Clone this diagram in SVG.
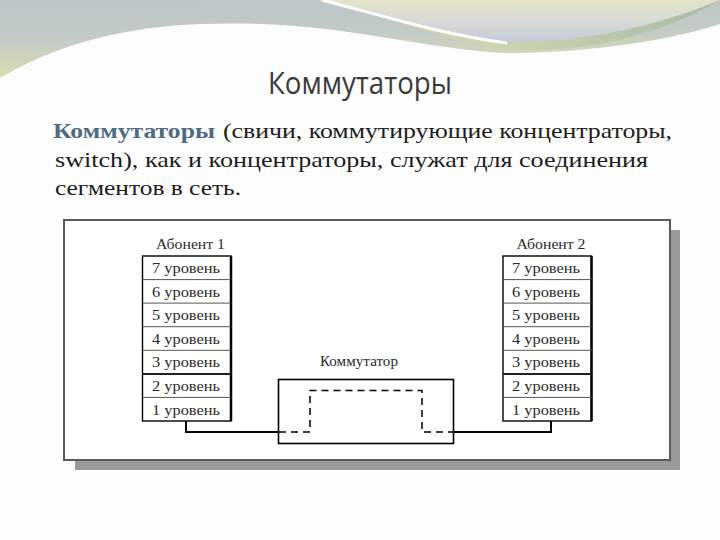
<svg xmlns="http://www.w3.org/2000/svg" width="720" height="540" viewBox="0 0 720 540">
<defs>
<linearGradient id="gLeft" x1="0" y1="0" x2="0.15" y2="1">
<stop offset="0" stop-color="#bcc6c9"/>
<stop offset="0.45" stop-color="#c3cbc6"/>
<stop offset="1" stop-color="#dfe6a6"/>
</linearGradient>
<linearGradient id="gRight" x1="0" y1="0" x2="0" y2="1">
<stop offset="0" stop-color="#e4e4c9"/>
<stop offset="0.55" stop-color="#d6d9d6"/>
<stop offset="1" stop-color="#c3cbd8"/>
</linearGradient>
<linearGradient id="gBand" x1="0" y1="0" x2="1" y2="0">
<stop offset="0" stop-color="#d9e0a8"/>
<stop offset="0.5" stop-color="#c9d2b0"/>
<stop offset="1" stop-color="#a9baa9"/>
</linearGradient>
<style>
.title{font-family:"Open Sans","Noto Sans",sans-serif;font-size:31px;fill:#3a3a3a}
.body{font-family:"Liberation Serif","DejaVu Serif",serif;font-size:22px;fill:#1c1c1c}
.bold{font-weight:bold;fill:#4f6b82}
.lbl{font-family:"Liberation Serif","Times New Roman",serif;font-size:15px;fill:#2a2a2a;text-anchor:middle}
.stack{fill:#fff;stroke:#000;stroke-width:1.4}
.sep{stroke:#555;stroke-width:1}
.sepb{stroke:#222;stroke-width:2}
.conn{fill:none;stroke:#000;stroke-width:2}
.dash{fill:none;stroke:#000;stroke-width:1.5;stroke-dasharray:7,5}
</style>
</defs>
<rect width="720" height="540" fill="#fdfdfd"/>
<g id="header">
<rect x="0" y="0" width="720" height="90" fill="url(#gLeft)"/>
<path d="M318,0 C400,20 460,45 515,50 C590,52 660,35 720,0 Z" fill="url(#gBand)"/>
<path d="M325,0 C400,20 460,40 510,42 C590,42 660,25 720,0 Z" fill="url(#gRight)"/>
<path d="M322,0 C390,18 450,36 507,43" fill="none" stroke="#ffffff" stroke-width="3"/>
<path d="M0,78 C40,55 100,28 200,24 C280,21 340,30 400,40 C450,48 490,54 522,53 C600,51 670,40 720,24 V540 H0 Z" fill="#fdfdfd"/>
</g>
<text class="title" x="268" y="94" textLength="184" lengthAdjust="spacingAndGlyphs">Коммутаторы</text>
<g id="bodytext">
<text class="body bold" x="53" y="138" textLength="162" lengthAdjust="spacingAndGlyphs">Коммутаторы</text>
<text class="body" x="223" y="138" textLength="449" lengthAdjust="spacingAndGlyphs">(свичи, коммутирующие концентраторы,</text>
<text class="body" x="55" y="167" textLength="593" lengthAdjust="spacingAndGlyphs">switch), как и концентраторы, служат для соединения</text>
<text class="body" x="55" y="195" textLength="186" lengthAdjust="spacingAndGlyphs">сегментов в сеть.</text>
</g>
<g id="frame">
<rect x="75" y="230" width="605" height="240" fill="#9a9a9a"/>
<rect x="64" y="220" width="606" height="240" fill="#ffffff" stroke="#5a5a5a" stroke-width="2"/>
</g>
<g id="connectors">
<path class="conn" d="M186,421 V432 H278"/>
<path class="conn" d="M551,421 V432 H453"/>
</g>
<g id="abonent1">
<text class="lbl" x="190.5" y="249" textLength="69" lengthAdjust="spacingAndGlyphs">Абонент 1</text>
<rect class="stack" x="142.5" y="256" width="88.5" height="165"/>
<line x1="231" y1="256" x2="231" y2="421" stroke="#000" stroke-width="2.5"/>
<line class="sep" x1="142.5" y1="279.6" x2="231" y2="279.6"/>
<line class="sep" x1="142.5" y1="303.1" x2="231" y2="303.1"/>
<line class="sep" x1="142.5" y1="326.7" x2="231" y2="326.7"/>
<line class="sep" x1="142.5" y1="350.3" x2="231" y2="350.3"/>
<line class="sepb" x1="142.5" y1="373.9" x2="231" y2="373.9"/>
<line class="sep" x1="142.5" y1="397.4" x2="231" y2="397.4"/>
<text class="lbl" x="186" y="273" textLength="68" lengthAdjust="spacingAndGlyphs">7 уровень</text>
<text class="lbl" x="186" y="296.5" textLength="68" lengthAdjust="spacingAndGlyphs">6 уровень</text>
<text class="lbl" x="186" y="320" textLength="68" lengthAdjust="spacingAndGlyphs">5 уровень</text>
<text class="lbl" x="186" y="343.5" textLength="68" lengthAdjust="spacingAndGlyphs">4 уровень</text>
<text class="lbl" x="186" y="367" textLength="68" lengthAdjust="spacingAndGlyphs">3 уровень</text>
<text class="lbl" x="186" y="391" textLength="68" lengthAdjust="spacingAndGlyphs">2 уровень</text>
<text class="lbl" x="186" y="414.5" textLength="68" lengthAdjust="spacingAndGlyphs">1 уровень</text>
</g>
<g id="abonent2">
<text class="lbl" x="551" y="249" textLength="69" lengthAdjust="spacingAndGlyphs">Абонент 2</text>
<rect class="stack" x="503" y="256" width="88.5" height="165"/>
<line x1="591.5" y1="256" x2="591.5" y2="421" stroke="#000" stroke-width="2.5"/>
<line class="sep" x1="503" y1="279.6" x2="591.5" y2="279.6"/>
<line class="sep" x1="503" y1="303.1" x2="591.5" y2="303.1"/>
<line class="sep" x1="503" y1="326.7" x2="591.5" y2="326.7"/>
<line class="sep" x1="503" y1="350.3" x2="591.5" y2="350.3"/>
<line class="sepb" x1="503" y1="373.9" x2="591.5" y2="373.9"/>
<line class="sep" x1="503" y1="397.4" x2="591.5" y2="397.4"/>
<text class="lbl" x="546" y="273" textLength="68" lengthAdjust="spacingAndGlyphs">7 уровень</text>
<text class="lbl" x="546" y="296.5" textLength="68" lengthAdjust="spacingAndGlyphs">6 уровень</text>
<text class="lbl" x="546" y="320" textLength="68" lengthAdjust="spacingAndGlyphs">5 уровень</text>
<text class="lbl" x="546" y="343.5" textLength="68" lengthAdjust="spacingAndGlyphs">4 уровень</text>
<text class="lbl" x="546" y="367" textLength="68" lengthAdjust="spacingAndGlyphs">3 уровень</text>
<text class="lbl" x="546" y="391" textLength="68" lengthAdjust="spacingAndGlyphs">2 уровень</text>
<text class="lbl" x="546" y="414.5" textLength="68" lengthAdjust="spacingAndGlyphs">1 уровень</text>
</g>
<g id="switch">
<text class="lbl" x="359" y="366" textLength="78" lengthAdjust="spacingAndGlyphs">Коммутатор</text>
<rect x="278.5" y="379.5" width="175" height="64" fill="#fff" stroke="#000" stroke-width="1.6"/>
<path class="dash" d="M279,432 H310 V390.5 H422 V432 H453"/>
</g>
</svg>
